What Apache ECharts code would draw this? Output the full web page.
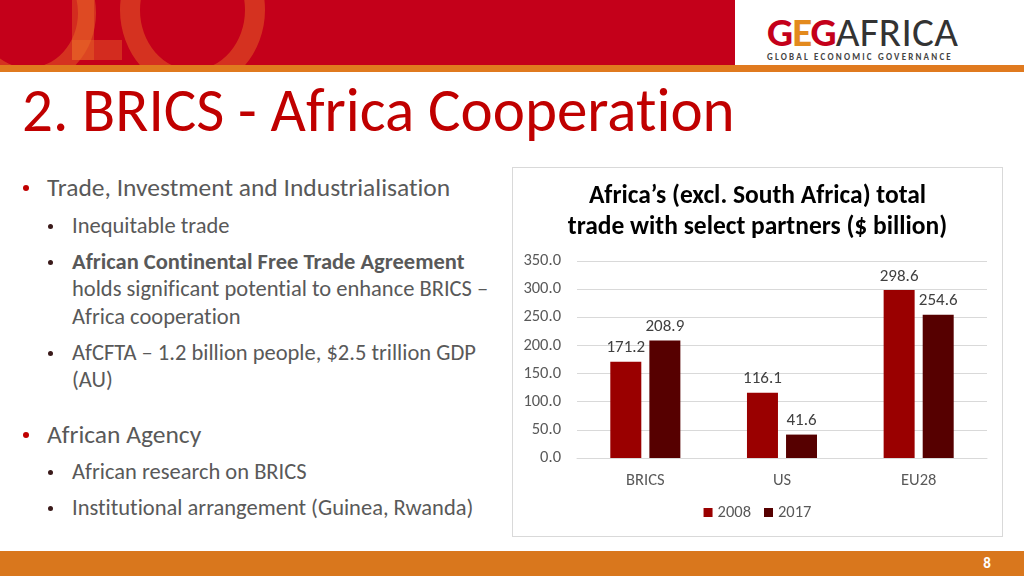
<!DOCTYPE html>
<html>
<head>
<meta charset="utf-8">
<script src="https://cdn.jsdelivr.net/npm/echarts@6/dist/echarts.min.js"></script>
<style>
  html,body{margin:0;padding:0;}
  body{width:1024px;height:576px;position:relative;overflow:hidden;background:#fff;font-family:Carlito,Lato,"Open Sans",sans-serif;font-variant-ligatures:none;}
  #header{position:absolute;left:0;top:0;width:1024px;height:65px;background:#c4001a;overflow:hidden;}
  .ring{position:absolute;border-radius:50%;border-style:solid;border-color:rgba(235,110,40,0.45);}
  #logoBox{position:absolute;left:735px;top:0;width:289px;height:65px;background:#fff;}
  #stripe{position:absolute;left:0;top:65px;width:1024px;height:7px;background:#e07a1f;}
  #footer{position:absolute;left:0;top:551px;width:1024px;height:25px;background:#d9771d;}
  #pnum{position:absolute;left:980px;top:553px;width:14px;text-align:center;color:#fff;font-weight:bold;font-size:15px;line-height:20px;}
  #title{position:absolute;left:22px;top:78px;font-size:61px;color:#c00000;line-height:64px;white-space:nowrap;}
  .l1,.l2{position:absolute;white-space:nowrap;color:#595959;}
  .l1{left:47px;font-size:25.5px;line-height:28px;}
  .l2{left:72px;font-size:22.5px;line-height:26px;}
  .b1,.b2{position:absolute;width:6px;height:6px;border-radius:50%;}
  .b1{left:23px;background:#c00000;}
  .b2{left:48px;width:5px;height:5px;background:#3a1a1a;}
  #chartWrap{position:absolute;left:512px;top:167px;width:489px;height:368px;border:1px solid #d9d9d9;}
  #chart{width:489px;height:368px;}
</style>
</head>
<body>
<div id="header">
  <div class="ring" style="left:-40px;top:-60px;width:100px;height:110px;border-width:18px;"></div>
  <div style="position:absolute;left:72px;top:0;width:22px;height:60px;background:rgba(235,110,40,0.4);"></div>
  <div style="position:absolute;left:72px;top:40px;width:50px;height:20px;background:rgba(235,110,40,0.4);"></div>
  <div class="ring" style="left:120px;top:-70px;width:105px;height:120px;border-width:20px;"></div>
</div>
<div id="logoBox">
  <div style="position:absolute;left:32px;top:10px;font-size:41px;line-height:44px;white-space:nowrap;letter-spacing:-1px;">
    <span style="color:#c4001a;font-weight:bold;">G</span><span style="color:#e38a1e;font-weight:bold;">E</span><span style="color:#c4001a;font-weight:bold;">G</span><span style="color:#333;font-weight:300;letter-spacing:0.3px;">AFRICA</span>
  </div>
  <div style="position:absolute;left:32px;top:52px;font-size:9px;line-height:10px;font-weight:bold;letter-spacing:2.2px;color:#444;white-space:nowrap;">GLOBAL ECONOMIC GOVERNANCE</div>
</div>
<div id="stripe"></div>
<div id="title">2. BRICS - Africa Cooperation</div>

<div class="b1" style="top:185px;"></div><div class="l1" style="top:174px;">Trade, Investment and Industrialisation</div>
<div class="b2" style="top:224px;"></div><div class="l2" style="top:213px;">Inequitable trade</div>
<div class="b2" style="top:260px;"></div><div class="l2" style="top:249px;"><b>African Continental Free Trade Agreement</b></div>
<div class="l2" style="top:276px;">holds significant potential to enhance BRICS –</div>
<div class="l2" style="top:304px;">Africa cooperation</div>
<div class="b2" style="top:351px;"></div><div class="l2" style="top:340px;">AfCFTA – 1.2 billion people, $2.5 trillion GDP</div>
<div class="l2" style="top:367px;">(AU)</div>
<div class="b1" style="top:432px;"></div><div class="l1" style="top:421px;">African Agency</div>
<div class="b2" style="top:470px;"></div><div class="l2" style="top:459px;">African research on BRICS</div>
<div class="b2" style="top:506px;"></div><div class="l2" style="top:495px;">Institutional arrangement (Guinea, Rwanda)</div>

<div id="chartWrap"><div id="chart"></div></div>
<div id="footer"></div>
<div id="pnum">8</div>

<script>
const categories = ['BRICS', 'US', 'EU28'];
const seriesNames = ['2008', '2017'];
const values2008 = [171.2, 116.1, 298.6];
const values2017 = [208.9, 41.6, 254.6];
const yMin = 0, yMax = 350, yStep = 50;
const colors = ['#9a0000', '#560000'];
const chartTitle = 'Africa\u2019s (excl. South Africa) total\ntrade with select partners ($ billion)';

const fontFam = 'Carlito, Lato, "Open Sans", sans-serif';
const chart = echarts.init(document.getElementById('chart'), null, {renderer: 'canvas'});
const mkSeries = (name, data, color) => ({
  name: name, type: 'bar', data: data, barWidth: 31, barGap: '26%',
  itemStyle: {color: color},
  label: {show: true, position: 'top', distance: 5, color: '#404040', fontSize: 17, fontFamily: fontFam,
          formatter: p => p.value.toFixed(1)}
});
chart.setOption({
  animation: false,
  textStyle: {fontFamily: fontFam},
  title: {text: chartTitle, left: 'center', top: 8,
          textStyle: {fontSize: 25.5, fontWeight: 'bold', color: '#000', lineHeight: 31, fontFamily: fontFam}},
  grid: {left: 64, right: 15, top: 93, bottom: 78, containLabel: false},
  legend: {data: seriesNames, top: 331, left: 'center', itemWidth: 9, itemHeight: 9, itemGap: 13,
           icon: 'rect', textStyle: {fontSize: 16.5, color: '#595959', fontFamily: fontFam}},
  xAxis: {type: 'category', data: categories,
          axisLine: {lineStyle: {color: '#d9d9d9'}}, axisTick: {show: false},
          axisLabel: {color: '#595959', fontSize: 16.5, margin: 14, fontFamily: fontFam}},
  yAxis: {type: 'value', min: yMin, max: yMax, interval: yStep,
          axisLine: {show: false}, axisTick: {show: false},
          splitLine: {lineStyle: {color: '#d9d9d9'}},
          axisLabel: {color: '#595959', fontSize: 16.5, margin: 16, fontFamily: fontFam,
                      formatter: v => v.toFixed(1)}},
  series: [mkSeries(seriesNames[0], values2008, colors[0]), mkSeries(seriesNames[1], values2017, colors[1])]
});
</script>
</body>
</html>
